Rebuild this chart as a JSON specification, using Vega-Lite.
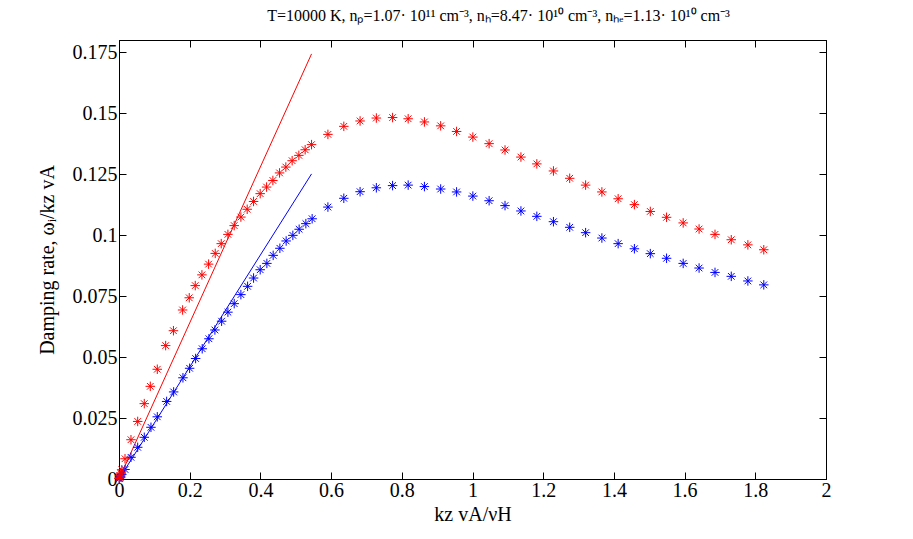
{
  "$schema": "https://vega.github.io/schema/vega-lite/v6.json",
  "autosize": "none",
  "padding": {"left": 119, "top": 40, "right": 87, "bottom": 59},
  "width": 707,
  "height": 439,
  "background": "white",
  "title": {
    "text": "T=10000 K, nₚ=1.07· 10¹¹ cm⁻³, nₕ=8.47· 10¹⁰ cm⁻³, nₕₑ=1.13· 10¹⁰ cm⁻³",
    "font": "Liberation Serif",
    "fontSize": 16,
    "fontWeight": "normal",
    "color": "black",
    "anchor": "middle",
    "offset": 16,
    "dx": 26
  },
  "datasets": {
    "points": [
      {"s": "blue", "x": 0.0005, "y": 0.0001},
      {"s": "blue", "x": 0.0015, "y": 0.0003},
      {"s": "blue", "x": 0.003, "y": 0.0007},
      {"s": "blue", "x": 0.005, "y": 0.0012},
      {"s": "blue", "x": 0.008, "y": 0.0019},
      {"s": "blue", "x": 0.0170, "y": 0.0039},
      {"s": "blue", "x": 0.0339, "y": 0.0089},
      {"s": "blue", "x": 0.0529, "y": 0.0130},
      {"s": "blue", "x": 0.0715, "y": 0.0171},
      {"s": "blue", "x": 0.0904, "y": 0.0212},
      {"s": "blue", "x": 0.1083, "y": 0.0255},
      {"s": "blue", "x": 0.1348, "y": 0.0318},
      {"s": "blue", "x": 0.1546, "y": 0.0357},
      {"s": "blue", "x": 0.1809, "y": 0.0415},
      {"s": "blue", "x": 0.1998, "y": 0.0454},
      {"s": "blue", "x": 0.2168, "y": 0.0494},
      {"s": "blue", "x": 0.2354, "y": 0.0534},
      {"s": "blue", "x": 0.2544, "y": 0.0575},
      {"s": "blue", "x": 0.2713, "y": 0.0611},
      {"s": "blue", "x": 0.2903, "y": 0.0647},
      {"s": "blue", "x": 0.3081, "y": 0.0684},
      {"s": "blue", "x": 0.3259, "y": 0.0719},
      {"s": "blue", "x": 0.3448, "y": 0.0756},
      {"s": "blue", "x": 0.3638, "y": 0.0790},
      {"s": "blue", "x": 0.3807, "y": 0.0824},
      {"s": "blue", "x": 0.3994, "y": 0.0858},
      {"s": "blue", "x": 0.4183, "y": 0.0884},
      {"s": "blue", "x": 0.4361, "y": 0.0917},
      {"s": "blue", "x": 0.4551, "y": 0.0946},
      {"s": "blue", "x": 0.4729, "y": 0.0976},
      {"s": "blue", "x": 0.4918, "y": 0.0999},
      {"s": "blue", "x": 0.5096, "y": 0.1024},
      {"s": "blue", "x": 0.5286, "y": 0.1047},
      {"s": "blue", "x": 0.5464, "y": 0.1067},
      {"s": "blue", "x": 0.591, "y": 0.1115},
      {"s": "blue", "x": 0.636, "y": 0.1151},
      {"s": "blue", "x": 0.682, "y": 0.1178},
      {"s": "blue", "x": 0.728, "y": 0.1194},
      {"s": "blue", "x": 0.774, "y": 0.1203},
      {"s": "blue", "x": 0.818, "y": 0.1205},
      {"s": "blue", "x": 0.864, "y": 0.1199},
      {"s": "blue", "x": 0.910, "y": 0.1189},
      {"s": "blue", "x": 0.955, "y": 0.1177},
      {"s": "blue", "x": 1.001, "y": 0.1160},
      {"s": "blue", "x": 1.047, "y": 0.1141},
      {"s": "blue", "x": 1.092, "y": 0.1121},
      {"s": "blue", "x": 1.137, "y": 0.1099},
      {"s": "blue", "x": 1.182, "y": 0.1077},
      {"s": "blue", "x": 1.229, "y": 0.1055},
      {"s": "blue", "x": 1.275, "y": 0.1032},
      {"s": "blue", "x": 1.320, "y": 0.1010},
      {"s": "blue", "x": 1.366, "y": 0.0988},
      {"s": "blue", "x": 1.412, "y": 0.0965},
      {"s": "blue", "x": 1.458, "y": 0.0944},
      {"s": "blue", "x": 1.503, "y": 0.0924},
      {"s": "blue", "x": 1.549, "y": 0.0905},
      {"s": "blue", "x": 1.596, "y": 0.0884},
      {"s": "blue", "x": 1.641, "y": 0.0865},
      {"s": "blue", "x": 1.686, "y": 0.0847},
      {"s": "blue", "x": 1.732, "y": 0.0831},
      {"s": "blue", "x": 1.779, "y": 0.0812},
      {"s": "blue", "x": 1.824, "y": 0.0796},
      {"s": "red", "x": 0.0005, "y": 0.0002},
      {"s": "red", "x": 0.0015, "y": 0.0007},
      {"s": "red", "x": 0.003, "y": 0.0014},
      {"s": "red", "x": 0.005, "y": 0.0024},
      {"s": "red", "x": 0.008, "y": 0.0038},
      {"s": "red", "x": 0.0170, "y": 0.0083},
      {"s": "red", "x": 0.0339, "y": 0.0161},
      {"s": "red", "x": 0.0529, "y": 0.0236},
      {"s": "red", "x": 0.0715, "y": 0.0309},
      {"s": "red", "x": 0.0885, "y": 0.0380},
      {"s": "red", "x": 0.1083, "y": 0.0450},
      {"s": "red", "x": 0.1320, "y": 0.0547},
      {"s": "red", "x": 0.1540, "y": 0.0608},
      {"s": "red", "x": 0.1800, "y": 0.0693},
      {"s": "red", "x": 0.1987, "y": 0.0743},
      {"s": "red", "x": 0.2157, "y": 0.0793},
      {"s": "red", "x": 0.2346, "y": 0.0837},
      {"s": "red", "x": 0.2535, "y": 0.0881},
      {"s": "red", "x": 0.2722, "y": 0.0925},
      {"s": "red", "x": 0.2892, "y": 0.0965},
      {"s": "red", "x": 0.3081, "y": 0.1003},
      {"s": "red", "x": 0.3259, "y": 0.1039},
      {"s": "red", "x": 0.3448, "y": 0.1074},
      {"s": "red", "x": 0.3626, "y": 0.1106},
      {"s": "red", "x": 0.3807, "y": 0.1138},
      {"s": "red", "x": 0.3994, "y": 0.1170},
      {"s": "red", "x": 0.4175, "y": 0.1197},
      {"s": "red", "x": 0.4353, "y": 0.1224},
      {"s": "red", "x": 0.4542, "y": 0.1255},
      {"s": "red", "x": 0.4720, "y": 0.1279},
      {"s": "red", "x": 0.4898, "y": 0.1305},
      {"s": "red", "x": 0.5088, "y": 0.1327},
      {"s": "red", "x": 0.5266, "y": 0.1350},
      {"s": "red", "x": 0.5447, "y": 0.1371},
      {"s": "red", "x": 0.591, "y": 0.1413},
      {"s": "red", "x": 0.636, "y": 0.1446},
      {"s": "red", "x": 0.682, "y": 0.1468},
      {"s": "red", "x": 0.728, "y": 0.1480},
      {"s": "red", "x": 0.774, "y": 0.1482},
      {"s": "red", "x": 0.818, "y": 0.1477},
      {"s": "red", "x": 0.864, "y": 0.1464},
      {"s": "red", "x": 0.910, "y": 0.1448},
      {"s": "red", "x": 0.955, "y": 0.1425},
      {"s": "red", "x": 1.001, "y": 0.1402},
      {"s": "red", "x": 1.047, "y": 0.1375},
      {"s": "red", "x": 1.092, "y": 0.1349},
      {"s": "red", "x": 1.137, "y": 0.1320},
      {"s": "red", "x": 1.182, "y": 0.1292},
      {"s": "red", "x": 1.229, "y": 0.1263},
      {"s": "red", "x": 1.275, "y": 0.1233},
      {"s": "red", "x": 1.320, "y": 0.1205},
      {"s": "red", "x": 1.366, "y": 0.1177},
      {"s": "red", "x": 1.412, "y": 0.1149},
      {"s": "red", "x": 1.458, "y": 0.1125},
      {"s": "red", "x": 1.503, "y": 0.1097},
      {"s": "red", "x": 1.549, "y": 0.1073},
      {"s": "red", "x": 1.596, "y": 0.1050},
      {"s": "red", "x": 1.641, "y": 0.1025},
      {"s": "red", "x": 1.686, "y": 0.1003},
      {"s": "red", "x": 1.732, "y": 0.0981},
      {"s": "red", "x": 1.779, "y": 0.0960},
      {"s": "red", "x": 1.824, "y": 0.0940}
    ],
    "fits": [
      {"s": "red", "x": 0, "y": 0},
      {"s": "red", "x": 0.5447, "y": 0.1743},
      {"s": "blue", "x": 0, "y": 0},
      {"s": "blue", "x": 0.5447, "y": 0.1251}
    ]
  },
  "layer": [
    {
      "data": {"name": "fits"},
      "mark": {"type": "line", "strokeWidth": 1, "clip": true},
      "encoding": {
        "x": {
          "field": "x", "type": "quantitative",
          "scale": {"domain": [0, 2], "nice": false, "zero": false},
          "axis": {
            "orient": "top", "labels": false, "title": null,
            "values": [0, 0.2, 0.4, 0.6, 0.8, 1, 1.2, 1.4, 1.6, 1.8, 2]
          }
        },
        "y": {
          "field": "y", "type": "quantitative",
          "scale": {"domain": [0, 0.18], "nice": false},
          "axis": {
            "orient": "right", "labels": false, "title": null,
            "values": [0, 0.025, 0.05, 0.075, 0.1, 0.125, 0.15, 0.175]
          }
        },
        "color": {
          "field": "s", "type": "nominal",
          "scale": {"domain": ["red", "blue"], "range": ["#ff0000", "#0000ff"]},
          "legend": null
        },
        "detail": {"field": "s"}
      }
    },
    {
      "data": {"name": "points"},
      "mark": {
        "type": "point",
        "shape": "M-1,0L1,0M0,-1L0,1M-0.7,-0.7L0.7,0.7M-0.7,0.7L0.7,-0.7",
        "filled": false,
        "size": 90,
        "strokeWidth": 1,
        "opacity": 1
      },
      "encoding": {
        "x": {
          "field": "x", "type": "quantitative",
          "axis": {
            "orient": "bottom", "title": "kz vA/νH", "format": ".1~f",
            "values": [0, 0.2, 0.4, 0.6, 0.8, 1, 1.2, 1.4, 1.6, 1.8, 2],
            "labelPadding": 8, "titlePadding": 4
          }
        },
        "y": {
          "field": "y", "type": "quantitative",
          "axis": {
            "orient": "left", "title": "Damping rate, ωᵢ/kz vA", "format": ".3~f",
            "values": [0, 0.025, 0.05, 0.075, 0.1, 0.125, 0.15, 0.175],
            "labelPadding": 9, "titlePadding": 15
          }
        },
        "stroke": {
          "field": "s", "type": "nominal",
          "scale": {"domain": ["red", "blue"], "range": ["#ff0000", "#0000ff"]},
          "legend": null
        }
      }
    }
  ],
  "config": {
    "view": {"stroke": "black", "strokeWidth": 1},
    "axis": {
      "grid": false,
      "domainColor": "black",
      "tickColor": "black",
      "tickSize": -7,
      "labelFlush": false,
      "labelOverlap": false,
      "labelColor": "black",
      "titleColor": "black",
      "labelFont": "Liberation Serif",
      "titleFont": "Liberation Serif",
      "labelFontSize": 20,
      "titleFontSize": 20,
      "titleFontWeight": "normal"
    }
  }
}
